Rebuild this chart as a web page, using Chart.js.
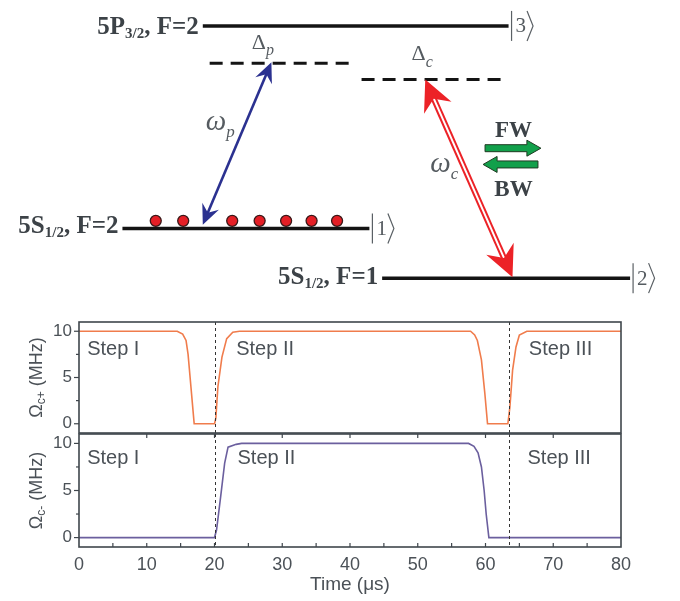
<!DOCTYPE html>
<html>
<head>
<meta charset="utf-8">
<script src="https://cdn.jsdelivr.net/npm/chart.js@4.4.0/dist/chart.umd.min.js"></script>
<style>
  body { margin: 0; background: #fff; }
  #wrap { position: relative; width: 680px; height: 601px; }
  canvas { position: absolute; left: 0; }
</style>
</head>
<body>
<div id="wrap">
  <canvas id="levels" width="680" height="305" style="top:0"></canvas>
  <canvas id="panelTop" width="680" height="130" style="top:305px"></canvas>
  <canvas id="panelBottom" width="680" height="168" style="top:433px"></canvas>
</div>
<script>
// ---- level diagram (diagram units, x 0..680, height 0..305 from top)
const levelStart = [200, 118, 383];
const levelEnd = [512, 370, 636];
const levelHeight = [20, 232, 284];
const levelKet = ["3", "1", "2"];
const virtualStart = [207, 362];
const virtualEnd = [350, 505];
const virtualHeight = [59, 76];
const atomX = [152, 180, 230, 258, 285, 311, 337];
const atomHeight = 224;
const probeArrow = [[200, 228], [270, 58]];
const couplingArrow = [[516, 283], [427, 76]];

// ---- pulse sequence
const timeTop = [0, 14.5, 15.3, 15.8, 16.1, 16.4, 16.7, 17, 20, 20.2, 20.5, 21.1, 21.8, 22.7, 23.7,
                 57.8, 58.4, 58.8, 59.4, 59.9, 60.3, 63.3, 63.6, 64, 64.5, 65, 66.1, 80];
const omegaPlus = [10, 10, 9.7, 9.0, 7.5, 5, 2.5, 0, 0, 0.6, 4, 7.2, 9.2, 9.9, 10,
                   10, 9.6, 9.0, 6.9, 3.3, 0, 0, 1.8, 5.8, 8.3, 9.6, 10, 10];
const timeBottom = [0, 20, 20.3, 20.9, 21.5, 22, 23.2, 24, 57.5, 58.3, 58.9, 59.4, 59.8, 60.1, 60.5, 80];
const omegaMinus = [0, 0, 0.8, 4.3, 7.9, 9.6, 9.9, 10, 10, 9.7, 9, 7.5, 5, 2.5, 0, 0];
const stepNames = ["Step I", "Step II", "Step III"];
const stepTimeTop = [1.2, 23.2, 66.4];
const stepTimeBottom = [1.2, 23.4, 66.2];
const switchTimes = [20, 63.5];
const yTicks = [0, 5, 10];
const yMinorTicks = [2.5, 7.5];

const GREY = "#4b5157";
const SERIF = "'Liberation Serif', 'DejaVu Serif', serif";
const SANS = "'Liberation Sans', Arial, sans-serif";

function runs(ctx, parts, x, y, align) {
  let w = 0;
  parts.forEach(p => { ctx.font = p[1]; w += ctx.measureText(p[0]).width; });
  let cx = align === "right" ? x - w : align === "center" ? x - w / 2 : x;
  parts.forEach(p => {
    ctx.font = p[1];
    ctx.fillText(p[0], cx, y + (p[2] || 0));
    cx += ctx.measureText(p[0]).width;
  });
}

function head(ctx, tip, from, len, half, notch, color) {
  const dx = from[0] - tip[0], dy = from[1] - tip[1];
  const d = Math.hypot(dx, dy), ux = dx / d, uy = dy / d, vx = -uy, vy = ux;
  ctx.beginPath();
  ctx.moveTo(tip[0], tip[1]);
  ctx.lineTo(tip[0] + ux * len + vx * half, tip[1] + uy * len + vy * half);
  ctx.lineTo(tip[0] + ux * notch, tip[1] + uy * notch);
  ctx.lineTo(tip[0] + ux * len - vx * half, tip[1] + uy * len - vy * half);
  ctx.closePath();
  ctx.fillStyle = color;
  ctx.fill();
}

function along(a, b, t) { return [a[0] + (b[0] - a[0]) * t, a[1] + (b[1] - a[1]) * t]; }

const diagramDecor = {
  id: "diagramDecor",
  afterDatasetsDraw(chart) {
    const ctx = chart.ctx, sx = chart.scales.x, sy = chart.scales.y;
    const P = p => [sx.getPixelForValue(p[0]), sy.getPixelForValue(p[1])];
    ctx.save();

    // probe arrow (blue, double headed)
    let a = P(probeArrow[0]), b = P(probeArrow[1]);
    let L = Math.hypot(b[0] - a[0], b[1] - a[1]);
    ctx.strokeStyle = "#2b3190"; ctx.lineWidth = 2.6;
    let s0 = along(a, b, 12 / L), s1 = along(b, a, 12 / L);
    ctx.beginPath(); ctx.moveTo(s0[0], s0[1]); ctx.lineTo(s1[0], s1[1]); ctx.stroke();
    head(ctx, a, b, 20, 9, 13, "#2b3190");
    head(ctx, b, a, 20, 9, 13, "#2b3190");

    // coupling arrow (red, hollow double line)
    a = P(couplingArrow[0]); b = P(couplingArrow[1]);
    L = Math.hypot(b[0] - a[0], b[1] - a[1]);
    s0 = along(a, b, 20 / L); s1 = along(b, a, 20 / L);
    ctx.strokeStyle = "#ec2227"; ctx.lineWidth = 6;
    ctx.beginPath(); ctx.moveTo(s0[0], s0[1]); ctx.lineTo(s1[0], s1[1]); ctx.stroke();
    ctx.strokeStyle = "#fff"; ctx.lineWidth = 2;
    ctx.beginPath(); ctx.moveTo(s0[0], s0[1]); ctx.lineTo(s1[0], s1[1]); ctx.stroke();
    head(ctx, a, b, 31, 15, 21, "#ec2227");
    head(ctx, b, a, 31, 15, 21, "#ec2227");

    // FW / BW green arrows
    ctx.fillStyle = "#12a04b"; ctx.strokeStyle = "#1f3a22"; ctx.lineWidth = 1;
    const arrowR = [488, 545, 148], arrowL = [486, 542, 165];
    let y = sy.getPixelForValue(arrowR[2]), x0 = sx.getPixelForValue(arrowR[0]), x1 = sx.getPixelForValue(arrowR[1]);
    ctx.beginPath();
    ctx.moveTo(x0, y - 3.5); ctx.lineTo(x1 - 14, y - 3.5); ctx.lineTo(x1 - 14, y - 8); ctx.lineTo(x1, y);
    ctx.lineTo(x1 - 14, y + 8); ctx.lineTo(x1 - 14, y + 3.5); ctx.lineTo(x0, y + 3.5); ctx.closePath();
    ctx.fill(); ctx.stroke();
    y = sy.getPixelForValue(arrowL[2]); x0 = sx.getPixelForValue(arrowL[0]); x1 = sx.getPixelForValue(arrowL[1]);
    ctx.beginPath();
    ctx.moveTo(x1, y - 3.5); ctx.lineTo(x0 + 14, y - 3.5); ctx.lineTo(x0 + 14, y - 8); ctx.lineTo(x0, y);
    ctx.lineTo(x0 + 14, y + 8); ctx.lineTo(x0 + 14, y + 3.5); ctx.lineTo(x1, y + 3.5); ctx.closePath();
    ctx.fill(); ctx.stroke();

    // texts
    ctx.fillStyle = "#3c4247"; ctx.textBaseline = "alphabetic";
    const big = "bold 25px " + SERIF, sub = "bold 15px " + SERIF;
    runs(ctx, [["5P", big], ["3/2", sub, 4], [", F=2", big]], sx.getPixelForValue(levelStart[0]) - 4, sy.getPixelForValue(levelHeight[0]) + 8, "right");
    runs(ctx, [["5S", big], ["1/2", sub, 4], [", F=2", big]], sx.getPixelForValue(levelStart[1]) - 4, sy.getPixelForValue(levelHeight[1]) + 5, "right");
    runs(ctx, [["5S", big], ["1/2", sub, 4], [", F=1", big]], sx.getPixelForValue(levelStart[2]) - 4, sy.getPixelForValue(levelHeight[2]) + 6, "right");
    const bw = "bold 23px " + SERIF;
    runs(ctx, [["FW", bw]], sx.getPixelForValue(517), sy.getPixelForValue(136), "center");
    runs(ctx, [["BW", bw]], sx.getPixelForValue(517), sy.getPixelForValue(198), "center");

    ctx.fillStyle = "#555b60";
    runs(ctx, [["\u0394", "22px " + SERIF], ["p", "italic 16px " + SERIF, 6]], sx.getPixelForValue(250), sy.getPixelForValue(44), "left");
    runs(ctx, [["\u0394", "22px " + SERIF], ["c", "italic 16px " + SERIF, 7]], sx.getPixelForValue(413), sy.getPixelForValue(56), "left");
    runs(ctx, [["\u03c9", "italic 29px " + SERIF], ["p", "italic 17px " + SERIF, 7]], sx.getPixelForValue(203), sy.getPixelForValue(129), "left");
    runs(ctx, [["\u03c9", "italic 29px " + SERIF], ["c", "italic 17px " + SERIF, 7]], sx.getPixelForValue(432), sy.getPixelForValue(173), "left");

    // kets
    ctx.strokeStyle = "#5a6065"; ctx.lineWidth = 1.2;
    levelEnd.forEach((e, i) => {
      const kx = sx.getPixelForValue(e) + 3, ky = sy.getPixelForValue(levelHeight[i]);
      ctx.beginPath(); ctx.moveTo(kx, ky - 15); ctx.lineTo(kx, ky + 15); ctx.stroke();
      ctx.font = "21px " + SERIF; ctx.textBaseline = "middle"; ctx.textAlign = "left";
      ctx.fillText(levelKet[i], kx + 4, ky + 1);
      const bx = kx + 4 + ctx.measureText(levelKet[i]).width + 1;
      ctx.beginPath(); ctx.moveTo(bx, ky - 15); ctx.lineTo(bx + 6, ky); ctx.lineTo(bx, ky + 15); ctx.stroke();
    });
    ctx.restore();
  }
};

const levelSets = levelStart.map((s, i) => ({
  data: [{ x: s, y: levelHeight[i] }, { x: levelEnd[i], y: levelHeight[i] }],
  showLine: true, borderColor: "#141414", borderWidth: 3.5, pointRadius: 0
}));
const virtualSets = virtualStart.map((s, i) => ({
  data: [{ x: s, y: virtualHeight[i] }, { x: virtualEnd[i], y: virtualHeight[i] }],
  showLine: true, borderColor: "#141414", borderWidth: 3, borderDash: [13, 8], pointRadius: 0
}));
const atomSet = {
  data: atomX.map(x => ({ x, y: atomHeight })),
  pointRadius: 5.5, pointBackgroundColor: "#e41f26", pointBorderColor: "#3a1818", pointBorderWidth: 1.3
};

new Chart(document.getElementById("levels"), {
  type: "scatter",
  data: { datasets: [...levelSets, ...virtualSets, atomSet] },
  options: {
    responsive: false, animation: false, devicePixelRatio: 1,
    layout: { padding: 0 },
    plugins: { legend: { display: false }, tooltip: { enabled: false } },
    scales: {
      x: { type: "linear", min: 0, max: 680, display: false },
      y: { type: "linear", min: 0, max: 305, reverse: true, display: false }
    }
  },
  plugins: [diagramDecor]
});

// ---- panels
function panelDecor(opt) {
  return {
    id: "panelDecor",
    afterDatasetsDraw(chart) {
      const ctx = chart.ctx, a = chart.chartArea, sx = chart.scales.x, sy = chart.scales.y;
      ctx.save();
      // switching lines
      ctx.strokeStyle = "#333"; ctx.lineWidth = 1; ctx.setLineDash([3, 3]);
      switchTimes.forEach(t => {
        const x = Math.round(sx.getPixelForValue(t)) + 0.5;
        ctx.beginPath(); ctx.moveTo(x, a.top); ctx.lineTo(x, a.bottom); ctx.stroke();
      });
      ctx.setLineDash([]);
      // frame
      ctx.strokeStyle = "#3f464c"; ctx.lineWidth = 1.6;
      ctx.strokeRect(a.left, a.top, a.right - a.left, a.bottom - a.top);
      // y ticks (outside)
      ctx.lineWidth = 1.2;
      yTicks.forEach(v => { const y = sy.getPixelForValue(v); ctx.beginPath(); ctx.moveTo(a.left - 5, y); ctx.lineTo(a.left, y); ctx.stroke(); });
      yMinorTicks.forEach(v => { const y = sy.getPixelForValue(v); ctx.beginPath(); ctx.moveTo(a.left - 3, y); ctx.lineTo(a.left, y); ctx.stroke(); });
      // x ticks (inside)
      opt.topTicks.forEach(v => { const x = sx.getPixelForValue(v); ctx.beginPath(); ctx.moveTo(x, a.top); ctx.lineTo(x, a.top + 4); ctx.stroke(); });
      opt.bottomTicks.forEach(v => { const x = sx.getPixelForValue(v); ctx.beginPath(); ctx.moveTo(x, a.bottom); ctx.lineTo(x, a.bottom - 4); ctx.stroke(); });
      // step labels
      ctx.fillStyle = GREY; ctx.textBaseline = "middle";
      stepNames.forEach((s, i) => runs(ctx, [[s, "20px " + SANS]], sx.getPixelForValue(opt.stepTimes[i]), sy.getPixelForValue(opt.stepLevel), "left"));
      // y title
      ctx.translate(a.left - 42, sy.getPixelForValue(5));
      ctx.rotate(-Math.PI / 2);
      runs(ctx, [["\u03a9", "18px " + SANS], [opt.sub, "12px " + SANS, 5], [" (MHz)", "18px " + SANS]], 0, 0, "center");
      ctx.restore();
    }
  };
}

function makePanel(id, xs, ys, color, opt) {
  return new Chart(document.getElementById(id), {
    type: "scatter",
    data: { datasets: [{ data: xs.map((x, i) => ({ x, y: ys[i] })), showLine: true, borderColor: color, borderWidth: 1.6, pointRadius: 0 }] },
    options: {
      responsive: false, animation: false, devicePixelRatio: 1,
      layout: { padding: opt.padding },
      plugins: { legend: { display: false }, tooltip: { enabled: false } },
      scales: {
        x: {
          type: "linear", min: 0, max: 80, display: opt.showX,
          grid: { display: false, drawTicks: false }, border: { display: false },
          ticks: { stepSize: 10, padding: 7, maxRotation: 0, color: GREY, font: { family: SANS, size: 18 } },
          title: { display: true, text: "Time (\u03bcs)", color: GREY, font: { family: SANS, size: 19 }, padding: { top: 0, bottom: 5 } },
          afterFit: s => { if (opt.showX) s.height = 54; s.paddingLeft = 0; s.paddingRight = 0; }
        },
        y: {
          type: "linear", min: -1, max: 11,
          grid: { display: false, drawTicks: false }, border: { display: false },
          afterBuildTicks: s => { s.ticks = yTicks.map(v => ({ value: v })); },
          afterFit: s => { s.width = 79; s.paddingTop = 0; s.paddingBottom = 0; },
          ticks: { padding: 7, color: GREY, font: { family: SANS, size: 17 } }
        }
      }
    },
    plugins: [panelDecor(opt)]
  });
}

makePanel("panelTop", timeTop, omegaPlus, "#f07c4c", {
  padding: { top: 17, bottom: 2, left: 0, right: 59 }, showX: false,
  topTicks: [], bottomTicks: [], stepTimes: stepTimeTop, stepLevel: 8, sub: "c+"
});
makePanel("panelBottom", timeBottom, omegaMinus, "#6b5f9e", {
  padding: { top: 1, bottom: 0, left: 0, right: 59 }, showX: true,
  topTicks: [10, 20, 30, 40, 50, 60, 70], bottomTicks: [5, 10, 15, 20, 25, 30, 35, 40, 45, 50, 55, 60, 65, 70, 75],
  stepTimes: stepTimeBottom, stepLevel: 8.4, sub: "c-"
});
</script>
</body>
</html>
